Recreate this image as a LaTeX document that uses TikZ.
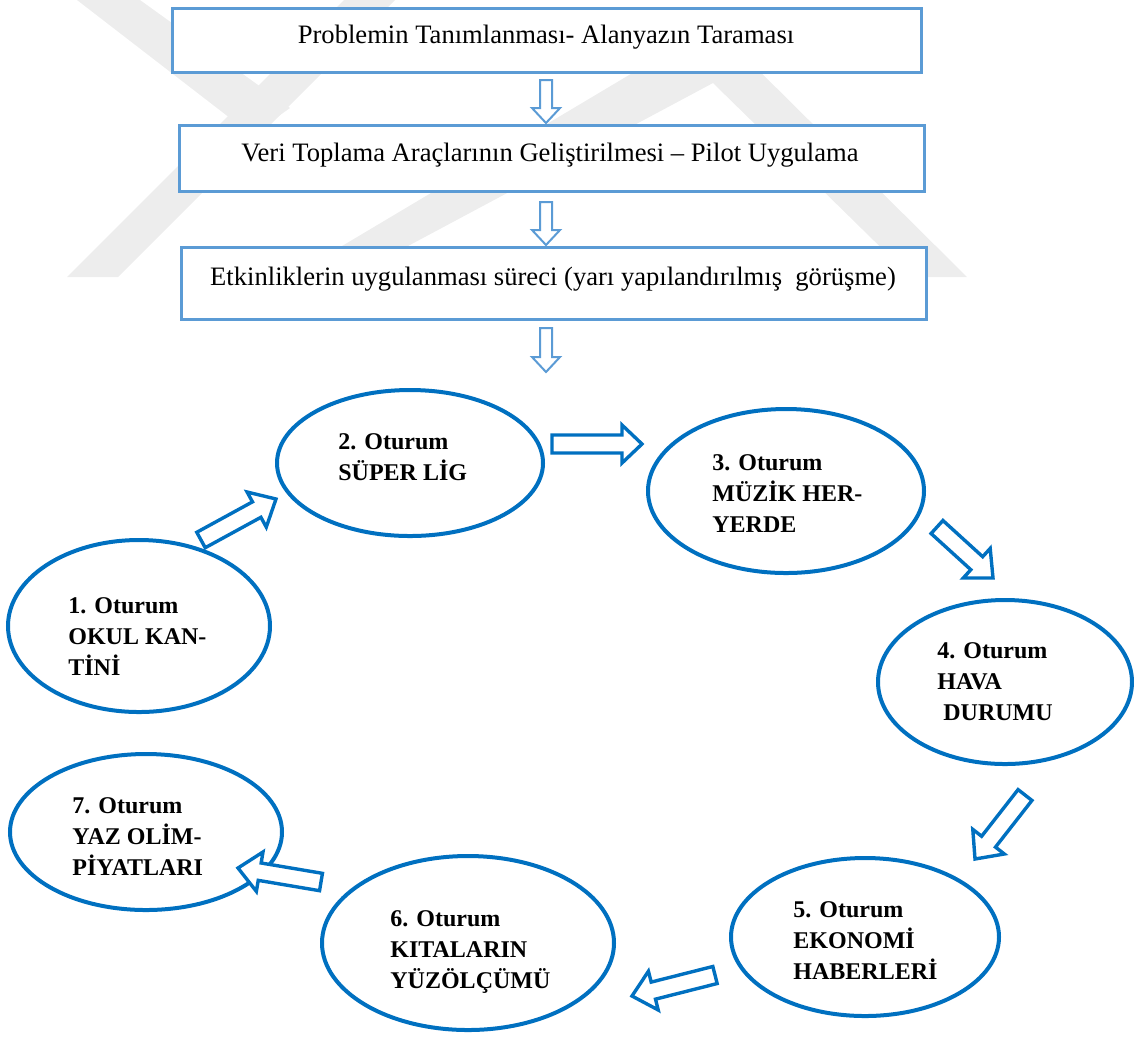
\documentclass[tikz,border=0pt]{standalone}
\usepackage{fontspec}
\setmainfont{Liberation Serif}
\usetikzlibrary{shapes.geometric,calc}
\definecolor{lblue}{HTML}{5B9BD5}
\definecolor{dblue}{HTML}{0070C0}
\definecolor{wmgray}{HTML}{EDEDED}
\newcommand{\blockarrow}[6]{%
  \coordinate (tmpH) at ($(#3)!#6!(#2)$);
  \draw[#1] ($(#2)!#4!90:(#3)$) -- ($(tmpH)!#4!90:(#3)$) -- ($(tmpH)!#5!90:(#3)$) -- (#3)
    -- ($(tmpH)!#5!-90:(#3)$) -- ($(tmpH)!#4!-90:(#3)$) -- ($(#2)!#4!-90:(#3)$) -- cycle;}
\newcommand{\lines}[1]{\begin{tabular}[t]{@{}l@{}}#1\end{tabular}}
\begin{document}
\begin{tikzpicture}[x=0.5pt,y=-0.5pt,
  stagebox/.style={draw=lblue, line width=1.5pt, fill=white, inner sep=0pt},
  boxtext/.style={font=\fontsize{13.3}{16}\selectfont, inner sep=0pt},
  session/.style={draw=dblue, line width=2pt, ellipse, inner sep=0pt},
  sesstext/.style={font=\bfseries\fontsize{12}{15.5}\selectfont, anchor=base west, inner sep=0pt},
  smallarrow/.style={draw=lblue, line width=1pt, fill=white},
  bigarrow/.style={draw=dblue, line width=1.7pt, fill=white}]
\useasboundingbox (0,0) rectangle (1134,1041);
% watermark
\fill[wmgray] (77,0) -- (140,0) -- (290,108) -- (252,135) -- cycle;
\fill[wmgray] (67,277) -- (118,277) -- (395,0) -- (344,0) -- cycle;
\fill[wmgray] (290,277) -- (350,277) -- (713,83) -- (911,277) -- (967,277) -- (713,25) -- cycle;
% boxes
\draw[stagebox] (172,8) rectangle (921,72);
\node[boxtext] (b1) at (546,37) {Problemin Tanımlanması- Alanyazın Taraması};
\draw[stagebox] (179,125) rectangle (924,191);
\node[boxtext] (b2) at (550,155) {Veri Toplama Araçlarının Geliştirilmesi – Pilot Uygulama};
\draw[stagebox] (181,247) rectangle (926,319);
\node[boxtext] (b3) at (553,279) {Etkinliklerin uygulanması süreci (yarı yapılandırılmış~ görüşme)};
% small down arrows
\coordinate (d1t) at (546,80);  \coordinate (d1h) at (546,123);
\coordinate (d2t) at (546,202); \coordinate (d2h) at (546,245);
\coordinate (d3t) at (546,328); \coordinate (d3h) at (546,372);
\blockarrow{smallarrow}{d1t}{d1h}{3pt}{7pt}{7.5pt}
\blockarrow{smallarrow}{d2t}{d2h}{3pt}{7pt}{7.5pt}
\blockarrow{smallarrow}{d3t}{d3h}{3pt}{7pt}{7.5pt}
% sessions
\node[session, minimum width=131pt, minimum height=86pt] (e1) at (139,626) {};
\node[session, minimum width=133pt, minimum height=73pt] (e2) at (410,463) {};
\node[session, minimum width=138pt, minimum height=82pt] (e3) at (786,491) {};
\node[session, minimum width=127pt, minimum height=82pt] (e4) at (1005,682) {};
\node[session, minimum width=134pt, minimum height=79pt] (e5) at (865,937) {};
\node[session, minimum width=146pt, minimum height=87pt] (e6) at (468,943) {};
\node[session, minimum width=136pt, minimum height=78pt] (e7) at (146,832) {};
\node[sesstext] (t1) at (68,613) {\lines{1. Oturum\\OKUL KAN-\\TİNİ}};
\node[sesstext] (t2) at (338,449) {\lines{2. Oturum\\SÜPER LİG}};
\node[sesstext] (t3) at (712,470) {\lines{3. Oturum\\MÜZİK HER-\\YERDE}};
\node[sesstext] (t4) at (937,658) {\lines{4. Oturum\\HAVA\\\ DURUMU}};
\node[sesstext] (t5) at (793,917) {\lines{5. Oturum\\EKONOMİ\\HABERLERİ}};
\node[sesstext] (t6) at (390,926) {\lines{6. Oturum\\KITALARIN\\YÜZÖLÇÜMÜ}};
\node[sesstext] (t7) at (72,813) {\lines{7. Oturum\\YAZ OLİM-\\PİYATLARI}};
% block arrows between sessions
\coordinate (a12t) at (201,540);  \coordinate (a12h) at (276,499);
\coordinate (a23t) at (552,444);  \coordinate (a23h) at (642,444);
\coordinate (a34t) at (937,527);  \coordinate (a34h) at (993,578);
\coordinate (a45t) at (1025,795); \coordinate (a45h) at (975,859);
\coordinate (a56t) at (715,975);  \coordinate (a56h) at (632,996);
\coordinate (a67t) at (321,882);  \coordinate (a67h) at (238,868);
\blockarrow{bigarrow}{a12t}{a12h}{4.4pt}{10pt}{11pt}
\blockarrow{bigarrow}{a23t}{a23h}{4.5pt}{9.5pt}{10pt}
\blockarrow{bigarrow}{a34t}{a34h}{4.4pt}{10pt}{11pt}
\blockarrow{bigarrow}{a45t}{a45h}{4.4pt}{10pt}{11pt}
\blockarrow{bigarrow}{a56t}{a56h}{4.4pt}{10pt}{11pt}
\blockarrow{bigarrow}{a67t}{a67h}{4.4pt}{10pt}{11pt}
\end{tikzpicture}
\end{document}
